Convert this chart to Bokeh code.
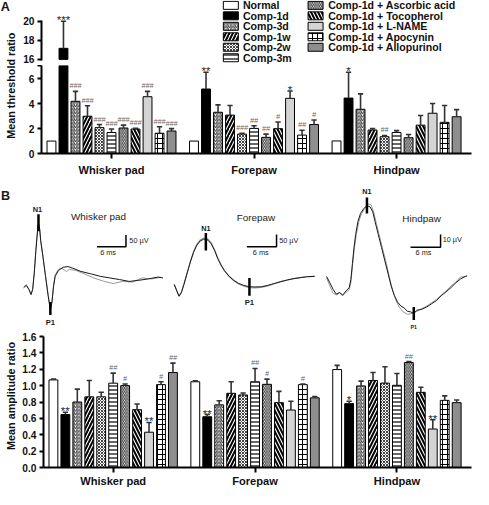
import numpy as np
from bokeh.plotting import figure
from bokeh.models import Range1d, FixedTicker, PrintfTickFormatter
from bokeh.layouts import column, row
from bokeh.embed import file_html
from bokeh.resources import INLINE
from bokeh.core.properties import value

# ---------------- data ----------------
groups = ["Whisker pad", "Forepaw", "Hindpaw"]
series = ["Normal", "Comp-1d", "Comp-3d", "Comp-1w", "Comp-2w", "Comp-3m",
          "Comp-1d + Ascorbic acid", "Comp-1d + Tocopherol", "Comp-1d + L-NAME",
          "Comp-1d + Apocynin", "Comp-1d + Allopurinol"]

# Panel A: mean threshold ratio (mean, SEM) per group, in series order
thr_whisker = [1.0, 17.16, 4.2, 3.0, 2.08, 1.69, 2.05, 1.97, 4.57, 1.63, 1.81]
thr_whisker_sem = [0, 2.84, 0.8, 0.84, 0.25, 0.28, 0.23, 0.05, 0.43, 0.52, 0.19]
thr_forepaw = [1.0, 5.19, 3.32, 3.09, 1.56, 2.02, 1.30, 2.0, 4.44, 1.48, 2.33]
thr_forepaw_sem = [0, 1.35, 0.59, 0.77, 0.07, 0.21, 0.26, 0.54, 0.59, 0.39, 0.37]
thr_hindpaw = [1.01, 4.46, 3.56, 1.89, 1.35, 1.69, 1.27, 2.28, 3.24, 2.51, 2.96]
thr_hindpaw_sem = [0, 2.08, 1.24, 0.11, 0.10, 0.15, 0.26, 0.78, 0.78, 1.35, 0.57]
thr_sig_whisker = ["", "***", "###", "###", "###", "###", "###", "###", "###", "###", "###"]
thr_sig_forepaw = ["", "**", "", "", "###", "##", "##", "#", "*", "##", "#"]
thr_sig_hindpaw = ["", "*", "", "", "##", "", "", "", "", "", ""]

# Panel B: mean amplitude ratio
amp_whisker = [1.07, 0.647, 0.80, 0.863, 0.863, 1.03, 1.0, 0.706, 0.431, 1.012, 1.16]
amp_whisker_sem = [0.01, 0.028, 0.157, 0.2, 0.057, 0.123, 0.02, 0.07, 0.119, 0.035, 0.115]
amp_forepaw = [1.047, 0.62, 0.765, 0.906, 0.886, 1.047, 1.016, 0.792, 0.702, 1.012, 0.851]
amp_forepaw_sem = [0.012, 0.027, 0.051, 0.141, 0.024, 0.163, 0.064, 0.138, 0.108, 0.008, 0.016]
amp_hindpaw = [1.196, 0.78, 0.996, 1.063, 1.031, 1.004, 1.282, 0.918, 0.47, 0.82, 0.792]
amp_hindpaw_sem = [0.051, 0.03, 0.059, 0.097, 0.2, 0.145, 0.012, 0.062, 0.114, 0.055, 0.032]
amp_sig_whisker = ["", "**", "", "", "", "##", "#", "", "**", "#", "##"]
amp_sig_forepaw = ["", "**", "", "", "", "##", "#", "", "", "#", ""]
amp_sig_hindpaw = ["", "*", "", "", "", "", "##", "", "**", "", ""]

# Panel B traces (time in ms, amplitude in uV)
wp_t1 = [0.0, 0.53, 1.07, 1.53, 1.87, 2.2, 2.53, 2.87, 3.07, 3.33, 3.53, 4.0, 4.53, 5.07, 5.53, 5.87,
         6.2, 6.53, 7.2, 8.2, 9.2, 10.2, 11.87, 13.87, 15.87, 17.87, 19.87, 21.87, 23.87, 25.87, 27.87, 28.87]
wp_v1 = [-35, -25, -42, -65, -42, 28, 125, 208, 243, 215, 167, 97, 14, -69, -132, -97,
         -28, 14, 39, 53, 56, 49, 35, 25, 14, 7, 0, -8, -3, 3, 11, 7]
wp_t2 = [0.0, 0.53, 1.07, 1.53, 1.87, 2.2, 2.53, 2.87, 3.07, 3.33, 3.53, 4.0, 4.53, 5.07, 5.53, 5.87,
         6.2, 6.53, 7.2, 7.87, 8.87, 9.53, 10.87, 12.53, 14.53, 16.53, 18.53, 20.53, 22.53, 24.53, 26.53, 28.53]
wp_v2 = [-32, -22, -40, -62, -40, 30, 128, 212, 246, 218, 170, 100, 17, -66, -128, -94,
         -25, 21, 44, 49, 35, 44, 39, 25, 7, -7, -17, -8, -11, 7, 3, 10]

fp_t = [0, 0.53, 1.0, 1.47, 2.0, 2.67, 3.33, 4.0, 4.67, 5.33, 6.0, 6.53, 7.0, 7.67, 8.33, 9.0, 9.67,
        10.33, 11.33, 12.33, 13.33, 14.33, 15.53, 16.67, 18.0, 19.33, 20.67, 22.0, 23.33, 24.67, 26.0, 27.33, 29.0]
fp_v1 = [7, -21, -44, -28, 7, 56, 104, 146, 176, 194, 201, 203, 197, 181, 153, 118, 90,
         67, 42, 24, 11, 3, -3, -4, -3, 3, 11, 19, 26, 32, 36, 40, 42]
fp_v2 = [7, -20, -43, -27, 8, 57, 106, 149, 180, 198, 206, 207, 202, 185, 156, 121, 92,
         68, 42, 23, 9, 0, -7, -8, -6, 1, 10, 19, 26, 32, 36, 40, 42]

hp_t1 = [0, 0.65, 1.29, 1.94, 2.58, 3.23, 3.87, 4.52, 4.84, 5.16, 5.48, 5.81, 6.26, 6.77, 7.42, 8.06,
         8.71, 9.23, 9.68, 10.32, 10.97, 11.61, 12.26, 12.9, 13.55, 14.19, 14.84, 15.48, 16.13, 16.77,
         17.42, 18.06, 19.03, 20.0, 20.97, 21.94, 22.9, 23.87, 24.84, 25.81, 26.77, 27.74, 28.06]
hp_v1 = [7.5, 2.5, -2.5, -6.25, -5, -7, -3.75, -1.25, 5, 17.5, 30, 40, 50, 56.25, 60, 62.5,
         61.25, 57.5, 50, 40, 30, 20, 10, 0, -7.5, -12.5, -15.5, -17, -19.5, -20,
         -21.25, -18.75, -18, -16.25, -13.75, -11.25, -7.5, -4.5, -1.25, 2.5, 5.5, 7.5, 8]
hp_t2 = [0, 0.65, 1.29, 1.94, 2.58, 3.23, 3.87, 4.52, 4.84, 5.16, 5.48, 5.94, 6.45, 6.97, 7.61, 8.39,
         8.9, 9.48, 10.0, 10.65, 11.29, 11.94, 12.58, 13.23, 13.87, 14.52, 15.16, 16.13, 17.1,
         18.06, 19.03, 20.0, 20.97, 21.94, 22.9, 23.87, 24.84, 25.81, 26.77, 28.06]
hp_v2 = [6.25, 0, -5.5, -7, -5.5, -7.5, -5, -3, 2.5, 15, 27.5, 40, 50, 56.25, 60, 63.75,
         63, 56.25, 47.5, 37.5, 27.5, 17.5, 6.25, -3.75, -11.25, -16.25, -19.5, -22, -21.25,
         -19.5, -17.5, -15.5, -13, -10.5, -7, -3.75, 0, 3, 7, 7.5]

# ---------------- layout helpers ----------------
S = 0.967
def px(v):
    return int(round(v * S))
def fs(v):
    return f"{v * S:.1f}px"

FONT = "Liberation Sans"
TW = 20                # width of the strip that holds the rotated axis titles
MW = 489 - TW          # width of the plotting figures
GSTEP = 11.87          # distance between groups in bar units
BAR_W = 0.74
XR = (-0.83, 34.98)
SPLIT = 67             # reference pixel row where the broken axis is split
UP_PX = 9.83           # px per unit above the break
LO_PX = 12.85          # px per unit below the break

def xpos(g, i):
    return g * GSTEP + i

styles = [
    dict(fill_color="white"),
    dict(fill_color="black"),
    dict(fill_color="white", hatch_pattern="/", hatch_scale=3.5, hatch_weight=1, hatch_color="#333333"),
    dict(fill_color="white", hatch_pattern="/", hatch_scale=7, hatch_weight=2, hatch_color="black"),
    dict(fill_color="white", hatch_pattern="x", hatch_scale=3, hatch_weight=1, hatch_color="#444444"),
    dict(fill_color="white", hatch_pattern="-", hatch_scale=4, hatch_weight=1.2, hatch_color="black"),
    dict(fill_color="white", hatch_pattern="\\", hatch_scale=3.5, hatch_weight=1, hatch_color="#333333"),
    dict(fill_color="white", hatch_pattern="\\", hatch_scale=7, hatch_weight=2, hatch_color="black"),
    dict(fill_color="#d4d4d4"),
    dict(fill_color="white", hatch_pattern="+", hatch_scale=5, hatch_weight=1, hatch_color="black"),
    dict(fill_color="#8e8e8e"),
]

def style_axis(ax, size=10.5):
    ax.axis_line_width = 2
    ax.axis_line_color = "black"
    ax.major_tick_line_width = 2
    ax.major_tick_out = 4
    ax.major_tick_in = 0
    ax.minor_tick_line_color = None
    ax.major_label_standoff = 3
    ax.major_label_text_font = FONT
    ax.major_label_text_font_style = "bold"
    ax.major_label_text_font_size = fs(size)
    ax.major_label_text_color = "#111111"

def base_fig(height, yr, bottom, top=0, xaxis=True):
    p = figure(width=px(MW), height=px(height), x_range=Range1d(*XR), y_range=Range1d(*yr),
               toolbar_location=None, output_backend="svg",
               x_axis_location="below" if xaxis else None,
               min_border_left=px(43 - TW), min_border_right=px(2),
               min_border_top=px(top), min_border_bottom=px(bottom))
    p.grid.visible = False
    p.outline_line_color = None
    p.background_fill_color = "white"
    p.border_fill_color = "white"
    if xaxis:
        ticks = [xpos(g, 5) for g in range(3)]
        p.xaxis.ticker = FixedTicker(ticks=ticks)
        p.xaxis.major_label_overrides = {t: gname for t, gname in zip(ticks, groups)}
        style_axis(p.xaxis[0], 11.5)
        p.xaxis.major_tick_out = 5
    style_axis(p.yaxis[0], 10.5)
    return p

def draw_bars(p, means, sems, sigs, clip=None, only_above=None, bottom=0):
    for i in range(len(series)):
        xs = [xpos(g, i) for g in range(3)]
        tops = [means[g][i] for g in range(3)]
        if clip is not None:
            tops = [min(t, clip) for t in tops]
        if only_above is not None:
            keep = [k for k in range(3) if tops[k] > only_above]
            xs = [xs[k] for k in keep]
            tops = [tops[k] for k in keep]
        p.vbar(x=xs, top=tops, bottom=bottom, width=BAR_W, line_color="black", line_width=1,
               **styles[i])
    ex, e0, e1, cx0, cx1, ctop = [], [], [], [], [], []
    sx, sy, st, hx, hy, ht = [], [], [], [], [], []
    for g in range(3):
        for i in range(len(series)):
            m, s, sig = means[g][i], sems[g][i], sigs[g][i]
            if clip is not None and m > clip:
                continue
            if only_above is not None and m < only_above:
                continue
            x = xpos(g, i)
            if s > 0:
                ex.append(x); e0.append(m); e1.append(m + s)
                cx0.append(x - 0.22); cx1.append(x + 0.22); ctop.append(m + s)
            if sig:
                if "*" in sig:
                    sx.append(x); sy.append(m + s); st.append(sig)
                else:
                    hx.append(x); hy.append(m + s); ht.append(sig)
    p.segment(x0=ex, y0=e0, x1=ex, y1=e1, line_color="#333333", line_width=1.6)
    p.segment(x0=cx0, y0=ctop, x1=cx1, y1=ctop, line_color="#333333", line_width=1.6)
    p.text(x=sx, y=sy, text=st, text_font=value(FONT), text_font_size=fs(12),
           text_align="center", text_baseline="bottom", text_color="#2a2a2a", y_offset=5)
    p.text(x=hx, y=hy, text=ht, text_font=value(FONT), text_font_size=fs(7.5),
           text_font_style="italic", text_align="center", text_baseline="bottom",
           text_color="#666666", y_offset=-1)

def title_fig(height, texts):
    p = figure(width=px(TW), height=px(height), x_range=Range1d(0, TW), y_range=Range1d(0, height),
               x_axis_location=None, y_axis_location=None, toolbar_location=None,
               output_backend="svg", min_border=0)
    p.grid.visible = False
    p.outline_line_color = None
    for (x, y, t, ang, align, size) in texts:
        p.text(x=[x], y=[height - y], text=[t], angle=ang, text_font=value(FONT),
               text_font_style="bold", text_font_size=fs(size), text_align=align,
               text_baseline="middle", text_color="#111111")
    return p

# ---------------- Panel A ----------------
thr_means = [thr_whisker, thr_forepaw, thr_hindpaw]
thr_sems = [thr_whisker_sem, thr_forepaw_sem, thr_hindpaw_sem]
thr_sigs = [thr_sig_whisker, thr_sig_forepaw, thr_sig_hindpaw]
BREAK = (158 - SPLIT) / LO_PX

# upper segment of the broken axis (16 sits at ref row 60.7)
up_lo = 16 - (SPLIT - 60.7) / UP_PX
up_hi = 16 + 60.7 / UP_PX
pA_up = base_fig(SPLIT, (up_lo, up_hi), bottom=0, xaxis=False)
pA_up.yaxis.ticker = FixedTicker(ticks=[16, 18, 20])
pA_up.yaxis.bounds = (15.92, 20.13)
draw_bars(pA_up, thr_means, thr_sems, thr_sigs, only_above=BREAK, bottom=16)

# lower segment (0 sits at ref row 158)
pA = base_fig(190 - SPLIT, (0, BREAK), bottom=32)
pA.yaxis.ticker = FixedTicker(ticks=[0, 2, 4, 6, BREAK])
pA.yaxis.major_label_overrides = {BREAK: ""}
pA.yaxis.bounds = (0, BREAK)
pA.xaxis.major_label_standoff = px(5)
draw_bars(pA, thr_means, thr_sems, thr_sigs, clip=BREAK)

# legend (two columns) drawn in the upper panel
def ux(X):
    return XR[0] + (X - 43) * (XR[1] - XR[0]) / 444.0
def uy(Y):
    return 16 + (60.7 - Y) / UP_PX

row_y = [5.0, 15.8, 26.6, 37.4, 48.2, 59.0]
for i, name in enumerate(series):
    col, r = (0, i) if i < 6 else (1, i - 6)
    sw_x, sw_w, tx = (231, 15, 251) if col == 0 else (318, 16, 339)
    pA_up.rect(x=[ux(sw_x + sw_w / 2)], y=[uy(row_y[r])], width=px(sw_w), height=px(8),
               width_units="screen", height_units="screen", line_color="black", line_width=1,
               **styles[i])
    pA_up.text(x=[ux(tx)], y=[uy(row_y[r])], text=[name], text_font=value(FONT),
               text_font_style="bold", text_font_size=fs(11), text_align="left",
               text_baseline="middle", text_color="#111111")

tA = title_fig(190, [(0.3, 6.5, "A", 0, "left", 13),
                     (11, 88, "Mean threshold ratio", np.pi / 2, "center", 11.2)])
rowA = row(tA, column(pA_up, pA))

# ---------------- Panel B traces ----------------
def trace_fig(w, xr, yr):
    p = figure(width=px(w), height=px(152), x_range=Range1d(*xr), y_range=Range1d(*yr),
               x_axis_location=None, y_axis_location=None, toolbar_location=None,
               output_backend="svg", min_border=0)
    p.grid.visible = False
    p.outline_line_color = None
    return p

def txt(p, x, y, t, size, style="normal", align="center"):
    p.text(x=[x], y=[y], text=[t], text_font=value(FONT), text_font_size=fs(size),
           text_font_style=style, text_align=align, text_baseline="middle", text_color="#1a1a1a")

t1 = trace_fig(172, (-4.8, 29.6), (-223.7, 409.6))
t1.line(wp_t2, wp_v2, line_color="#9a9a9a", line_width=1)
t1.line(wp_t1, wp_v1, line_color="#1a1a1a", line_width=1)
t1.segment(x0=[3.07, 5.53], y0=[208, -97], x1=[3.07, 5.53], y1=[281, -153], line_color="black",
           line_width=2.5)
t1.line([15.2, 21.2, 21.2], [141.7, 141.7, 191.7], line_color="black", line_width=1.5)
txt(t1, 2.87, 300, "N1", 7.5, "bold")
txt(t1, 5.53, -185, "P1", 8, "bold")
txt(t1, 15.5, 271, "Whisker pad", 10.2)
txt(t1, 17.5, 118, "6 ms", 7.5)
txt(t1, 21.9, 169, "50 µV", 7.5, align="left")
txt(t1, -4.7, 361, "B", 13, "bold", align="left")

t2 = trace_fig(158, (-1.6, 30.0), (-195.8, 437.5))
t2.line(fp_t, fp_v2, line_color="#9a9a9a", line_width=1.2)
t2.line(fp_t, fp_v1, line_color="#1a1a1a", line_width=1)
t2.segment(x0=[6.53, 15.53], y0=[153, 35], x1=[6.53, 15.53], y1=[229, -42], line_color="black",
           line_width=2.5)
t2.line([15.0, 21.13, 21.13], [169.4, 169.4, 222.2], line_color="black", line_width=1.5)
txt(t2, 6.53, 250, "N1", 7.5, "bold")
txt(t2, 15.53, -69, "P1", 8, "bold")
txt(t2, 16.87, 294.5, "Forepaw", 10.2)
txt(t2, 17.87, 146, "6 ms", 7.5)
txt(t2, 21.67, 197, "50 µV", 7.5, align="left")

t3 = trace_fig(159, (-1.42, 29.35), (-35.25, 78.75))
t3.line(hp_t2, hp_v2, line_color="#9a9a9a", line_width=1)
t3.line(hp_t1, hp_v1, line_color="#1a1a1a", line_width=1)
t3.segment(x0=[8.06, 17.42], y0=[56.25, -16.25], x1=[8.06, 17.42], y1=[68.75, -26.25],
           line_color="black", line_width=2.5)
t3.line([16.77, 22.77, 22.77], [30, 30, 40], line_color="black", line_width=1.5)
txt(t3, 8.06, 73, "N1", 7.5, "bold")
txt(t3, 17.42, -31.5, "P1", 5.5, "bold")
txt(t3, 18.97, 52.75, "Hindpaw", 10.2)
txt(t3, 19.35, 25.75, "6 ms", 7.5)
txt(t3, 23.2, 35.75, "10 µV", 7.5, align="left")

# ---------------- Panel B bars ----------------
pB = base_fig(163, (0, 1.6), bottom=22, top=5)
pB.yaxis.ticker = FixedTicker(ticks=[0, 0.2, 0.4, 0.6, 0.8, 1.0, 1.2, 1.4, 1.6])
pB.yaxis.formatter = PrintfTickFormatter(format="%.1f")
pB.xaxis.major_label_standoff = px(2)
amp_means = [amp_whisker, amp_forepaw, amp_hindpaw]
amp_sems = [amp_whisker_sem, amp_forepaw_sem, amp_hindpaw_sem]
amp_sigs = [amp_sig_whisker, amp_sig_forepaw, amp_sig_hindpaw]
draw_bars(pB, amp_means, amp_sems, amp_sigs)
tB = title_fig(163, [(11, 416 - 342, "Mean amplitude ratio", np.pi / 2, "center", 11.2)])
rowB = row(tB, pB)

layout = column(rowA, row(t1, t2, t3), rowB)
open("out.html", "w").write(file_html(layout, INLINE))
